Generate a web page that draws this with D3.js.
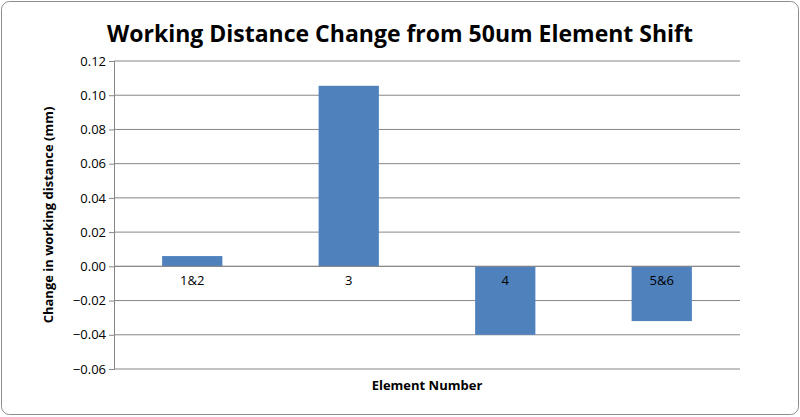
<!DOCTYPE html>
<html><head><meta charset="utf-8">
<script src="https://cdn.jsdelivr.net/npm/d3@7"></script>
<style>body{margin:0;background:#fff}</style>
</head><body>
<svg id="c" width="800" height="417"></svg>
<script>
const categories = ["1&2", "3", "4", "5&6"];
const values = [0.006, 0.1055, -0.040, -0.032];
const yTicks = [0.12, 0.10, 0.08, 0.06, 0.04, 0.02, 0.00, -0.02, -0.04, -0.06];

const svg = d3.select("#c");
const font = "'Open Sans', 'Liberation Sans', sans-serif";
svg.append("rect").attr("x",1.5).attr("y",1.5).attr("width",797).attr("height",413)
  .attr("rx",8).attr("fill","#fff").attr("stroke","#8c8c8c");

const L=114, R=740, T=61, B=369;
const y = d3.scaleLinear().domain([-0.06,0.12]).range([B,T]);
const x = d3.scaleBand().domain(categories).range([L,R]).paddingInner(0.615).paddingOuter(0.3075);

svg.append("g").selectAll("line").data(yTicks).join("line")
  .attr("x1",L).attr("x2",R).attr("y1",d=>y(d)).attr("y2",d=>y(d))
  .attr("stroke","#868686").attr("stroke-width",1);

const ax = svg.append("g").attr("transform",`translate(${L},0)`)
  .call(d3.axisLeft(y).tickValues(yTicks).tickFormat(d3.format(".2f")).tickSize(5));
ax.select(".domain").attr("stroke","#868686");
ax.selectAll(".tick line").attr("stroke","#868686");
ax.selectAll("text").attr("font-family",font).attr("font-size",13).attr("fill","#000");

svg.append("g").selectAll("rect").data(values).join("rect")
  .attr("x",(d,i)=>x(categories[i])).attr("width",x.bandwidth())
  .attr("y",d=>y(Math.max(0,d))).attr("height",d=>Math.abs(y(d)-y(0)))
  .attr("fill","#4f81bd");

svg.append("line").attr("x1",L).attr("x2",R).attr("y1",y(0)).attr("y2",y(0)).attr("stroke","#868686");

svg.append("g").selectAll("text").data(categories).join("text")
  .attr("x",d=>x(d)+x.bandwidth()/2).attr("y",y(0)+19).attr("text-anchor","middle")
  .attr("font-family",font).attr("font-size",13).text(d=>d);

svg.append("text").attr("x",400).attr("y",42).attr("text-anchor","middle")
  .attr("font-family",font).attr("font-weight","bold").attr("font-size",23)
  .text("Working Distance Change from 50um Element Shift");
svg.append("text").attr("x",427).attr("y",390).attr("text-anchor","middle")
  .attr("font-family",font).attr("font-weight","bold").attr("font-size",13)
  .text("Element Number");
svg.append("text").attr("transform",`translate(53,${(T+B)/2}) rotate(-90)`).attr("text-anchor","middle")
  .attr("font-family",font).attr("font-weight","bold").attr("font-size",13)
  .text("Change in working distance (mm)");
</script>
</body></html>
